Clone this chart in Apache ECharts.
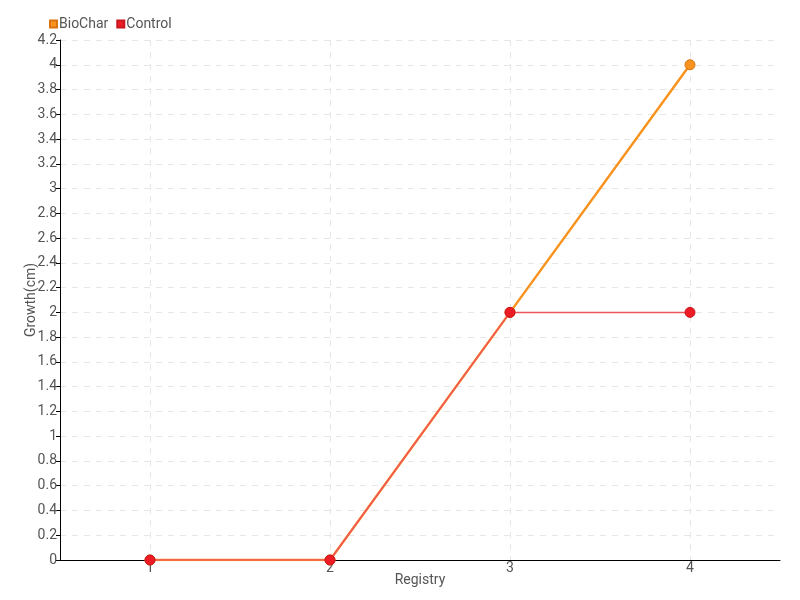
<!DOCTYPE html>
<html>
<head>
<meta charset="utf-8">
<script src="https://cdn.jsdelivr.net/npm/echarts@6/dist/echarts.min.js"></script>
<style>
  html, body { margin: 0; padding: 0; background: #fff; }
  #chart { width: 800px; height: 600px; }
</style>
</head>
<body>
<div id="chart"></div>
<script>
const categories = ["1", "2", "3", "4"];
const bioChar = [0, 0, 2, 4];
const control = [0, 0, 2, 2];

const fontFamily = "Roboto, sans-serif";
const textColor = "#555";

const chart = echarts.init(document.getElementById("chart"));
chart.setOption({
  backgroundColor: "#fff",
  textStyle: { fontFamily: fontFamily, color: textColor },
  legend: {
    left: 44,
    top: 12,
    itemWidth: 7,
    itemHeight: 7,
    itemGap: 8,
    icon: "rect",
    textStyle: { fontSize: 14, color: textColor, padding: [0, 0, 0, -3] },
    data: ["BioChar", "Control"],
  },
  grid: { left: 60, right: 20, top: 40, bottom: 40 },
  xAxis: {
    type: "category",
    data: categories,
    boundaryGap: true,
    name: "Registry",
    nameLocation: "middle",
    nameGap: 13,
    nameMoveOverlap: false,
    nameTextStyle: { fontSize: 14, color: textColor },
    axisLine: { lineStyle: { color: "#000" } },
    axisTick: { show: false },
    axisLabel: { fontSize: 14, color: textColor, margin: 1 },
    splitLine: {
      show: true,
      alignWithLabel: true,
      lineStyle: { color: "#e6e6e6", type: [6, 6] },
    },
  },
  yAxis: {
    type: "value",
    min: 0,
    max: 4.2,
    interval: 0.2,
    name: "Growth(cm)",
    nameLocation: "middle",
    nameGap: 22,
    nameMoveOverlap: false,
    nameTextStyle: { fontSize: 14, color: textColor },
    axisLine: { show: true, lineStyle: { color: "#000" } },
    axisTick: { show: true, length: 4, lineStyle: { color: "#000" } },
    axisLabel: { fontSize: 14, color: textColor, margin: 3 },
    splitLine: { lineStyle: { color: "#e6e6e6", type: [6, 6] } },
  },
  series: [
    {
      name: "BioChar",
      type: "line",
      data: bioChar,
      symbol: "circle",
      symbolSize: 10,
      itemStyle: { color: "#f7931e", borderColor: "#d9730f", borderWidth: 1 },
      lineStyle: { color: "#f7931e", width: 2.5 },
      z: 2,
    },
    {
      name: "Control",
      type: "line",
      data: control,
      symbol: "circle",
      symbolSize: 10,
      itemStyle: { color: "#ed1c24", borderColor: "#c8161c", borderWidth: 1 },
      lineStyle: { color: "#f2545b", width: 1.5 },
      z: 3,
    },
  ],
});
</script>
</body>
</html>
